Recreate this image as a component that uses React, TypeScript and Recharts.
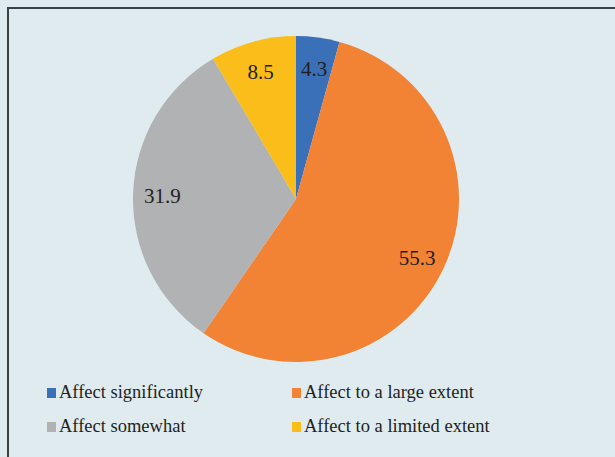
import { PieChart, Pie, Cell } from "recharts";

const categories = [
  "Affect significantly",
  "Affect to a large extent",
  "Affect somewhat",
  "Affect to a limited extent",
];
const shares = [4.3, 55.3, 31.9, 8.5];
const colors = ["#3a70b8", "#f28234", "#b1b2b4", "#fbbd19"];

const data = categories.map((name, i) => ({ name, value: shares[i] }));

const RAD = Math.PI / 180;
const FONT = "'Liberation Serif', serif";

// value label sitting inside each slice, a bit in from the rim
const renderLabel = (props: any) => {
  const { cx, cy, midAngle, outerRadius, value } = props;
  const r = outerRadius * 0.82;
  const x = cx + r * Math.cos(-midAngle * RAD);
  const y = cy + r * Math.sin(-midAngle * RAD) + 2;
  return (
    <text
      x={x}
      y={y}
      fill="#231f20"
      fontSize={21}
      fontFamily={FONT}
      textAnchor="middle"
      dominantBaseline="central"
    >
      {value}
    </text>
  );
};

// two-column key under the pie
const Key = () => (
  <div
    style={{
      position: "absolute",
      left: 47,
      top: 381,
      display: "grid",
      gridTemplateColumns: "245px 280px",
      rowGap: 11,
      fontFamily: FONT,
      fontSize: 18.5,
      color: "#231f20",
    }}
  >
    {categories.map((name, i) => (
      <div key={name} style={{ display: "flex", alignItems: "center", height: 23, whiteSpace: "nowrap" }}>
        <span
          style={{
            display: "inline-block",
            width: 9,
            height: 10,
            background: colors[i],
            marginRight: 3,
          }}
        />
        {name}
      </div>
    ))}
  </div>
);

export default function App() {
  return (
    <div
      style={{
        position: "relative",
        width: 615,
        height: 457,
        overflow: "hidden",
        background: "#dfebef",
      }}
    >
      <style>{`body{margin:0}`}</style>
      <div
        style={{
          position: "absolute",
          left: 7,
          top: 7,
          width: 700,
          height: 500,
          borderTop: "2px solid #3c4141",
          borderLeft: "2px solid #3c4141",
        }}
      />
      <div style={{ position: "absolute", left: 0, top: 0 }}>
        <PieChart width={615} height={457} margin={{ top: 0, right: 0, bottom: 0, left: 0 }}>
          <Pie
            data={data}
            dataKey="value"
            nameKey="name"
            cx={296}
            cy={199}
            outerRadius={163}
            startAngle={90}
            endAngle={-270}
            stroke="none"
            label={renderLabel}
            labelLine={false}
            isAnimationActive={false}
          >
            {data.map((d, i) => (
              <Cell key={d.name} fill={colors[i]} />
            ))}
          </Pie>
        </PieChart>
      </div>
      <Key />
    </div>
  );
}
